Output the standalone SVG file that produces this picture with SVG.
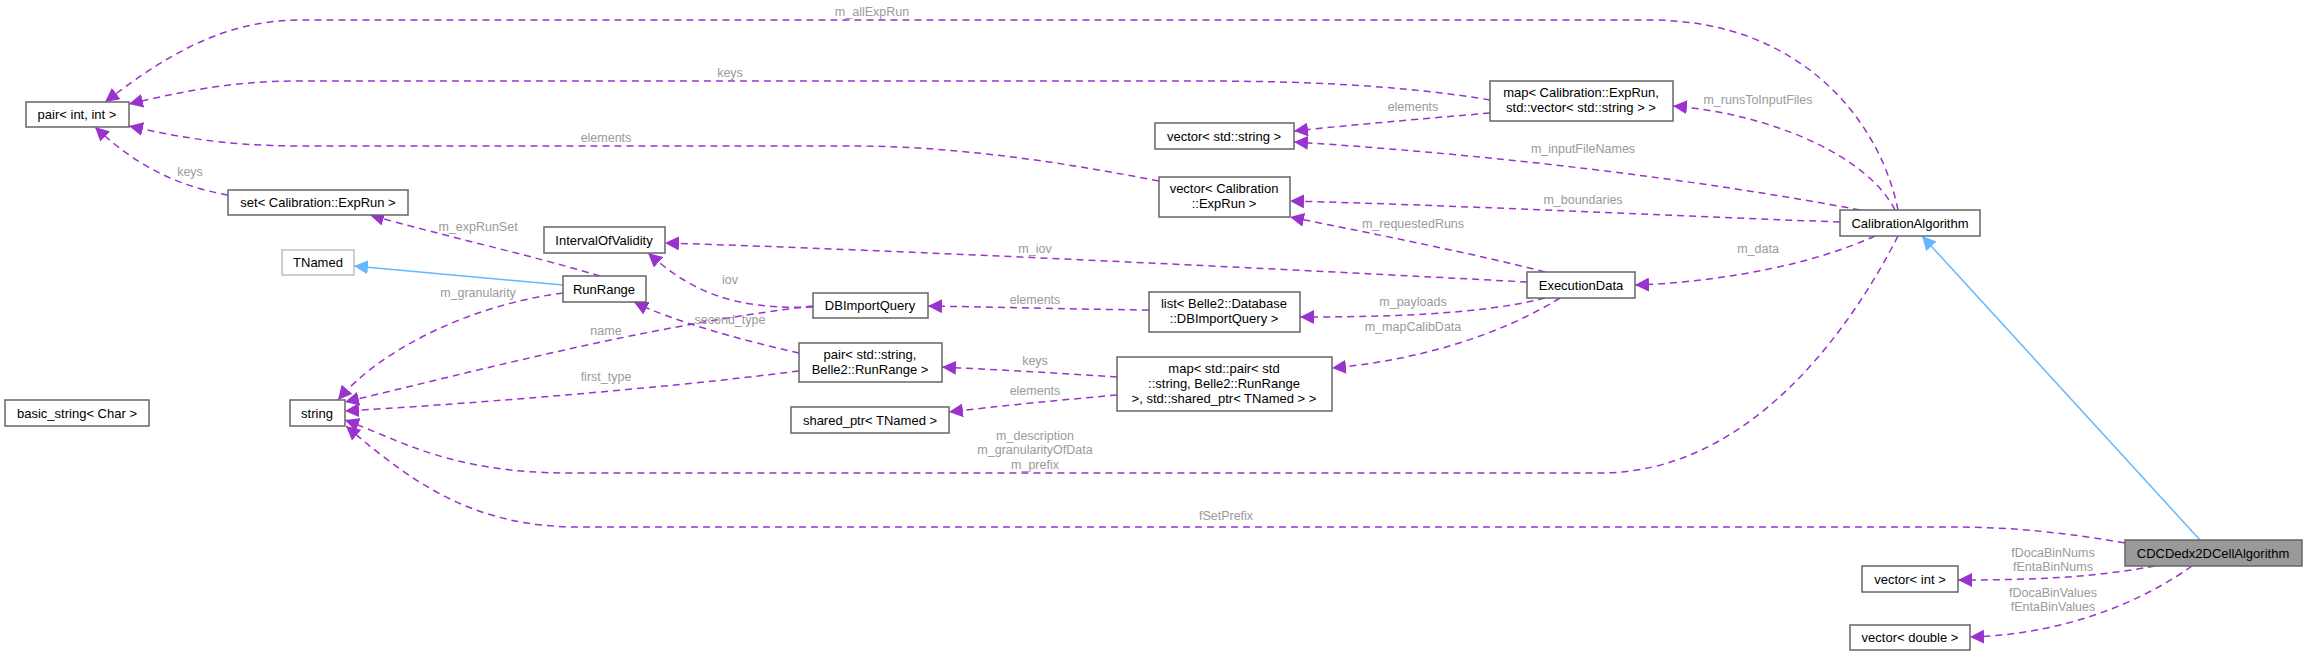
<svg xmlns="http://www.w3.org/2000/svg" width="2304" height="653" viewBox="0 0 2304 653">
<defs>
<marker id="pa" viewBox="0 0 10 10" refX="10" refY="5" markerWidth="14" markerHeight="14" markerUnits="userSpaceOnUse" orient="auto"><path d="M0,0 L10,5 L0,10 z" fill="#9a32cd"/></marker>
<marker id="ba" viewBox="0 0 10 10" refX="10" refY="5" markerWidth="14" markerHeight="14" markerUnits="userSpaceOnUse" orient="auto"><path d="M0,0 L10,5 L0,10 z" fill="#63b8ff"/></marker>
</defs>
<style>
rect{fill:#fff;stroke:#666;stroke-width:1.5}
.g rect{stroke:#bfbfbf}
.sel rect{fill:#999}
text{font-family:"Liberation Sans",Arial,sans-serif;font-size:13px;fill:#000}
.n text{text-anchor:middle}
.e path{fill:none;stroke:#9a32cd;stroke-width:1.5;stroke-dasharray:7,5;marker-end:url(#pa)}
.e path.i{stroke:#63b8ff;stroke-dasharray:none;marker-end:url(#ba)}
.l{fill:#9a9a9a;font-size:12.5px;text-anchor:middle}
</style>
<rect x="0" y="0" width="2304" height="653" style="fill:#fff;stroke:none"/>
<g class="e" id="edges">
<path d="M1898,210 C1880,120 1800,20 1650,20 L300,20 C220,20 160,60 105,102"/>
<path d="M1490,100 C1400,85 1300,81 1200,81 L300,81 C230,81 180,92 129,104"/>
<path d="M1490,113 C1420,119 1350,125 1294,131"/>
<path d="M1860,210 C1700,180 1500,155 1294,142"/>
<path d="M1895,210 C1870,160 1780,115 1673,106"/>
<path d="M1159,181 C1050,160 950,146 850,146 L300,146 C220,146 170,135 129,126"/>
<path d="M228,195 C170,185 130,160 95,127"/>
<path d="M1840,222 C1650,215 1450,205 1290,201"/>
<path d="M1545,272 C1480,255 1380,235 1290,217"/>
<path d="M1527,282 C1300,270 900,250 665,243"/>
<path d="M1875,236 C1800,270 1700,283 1635,285"/>
<path d="M600,276 C530,255 440,235 370,215"/>
<path class="i" d="M563,285 L354,266"/>
<path d="M813,307 C730,310 690,290 648,253"/>
<path d="M799,353 C740,340 670,320 634,302"/>
<path d="M813,306 C650,325 480,370 345,402"/>
<path d="M799,371 C650,390 450,405 345,411"/>
<path d="M563,293 C470,305 380,350 338,400"/>
<path d="M1149,310 C1060,309 990,307 928,306"/>
<path d="M1545,298 C1480,315 1380,317 1300,317"/>
<path d="M1560,298 C1500,335 1420,360 1332,368"/>
<path d="M1117,377 C1060,373 1000,370 942,367"/>
<path d="M1117,395 C1060,400 1000,406 949,412"/>
<path d="M1898,236 C1850,330 1750,473 1600,473 L570,473 C450,473 400,440 345,420"/>
<path d="M2125,543 C2050,530 2000,527 1950,527 L580,527 C480,527 420,490 346,426"/>
<path d="M2155,566 C2090,578 2030,580 1958,580"/>
<path d="M2192,566 C2130,610 2050,635 1970,637"/>
<path class="i" d="M2200,540 L1922,236"/>
</g>
<g id="labels">
<text class="l" x="872" y="16">m_allExpRun</text>
<text class="l" x="730" y="77">keys</text>
<text class="l" x="1413" y="111">elements</text>
<text class="l" x="606" y="142">elements</text>
<text class="l" x="190" y="176">keys</text>
<text class="l" x="1758" y="104">m_runsToInputFiles</text>
<text class="l" x="1583" y="153">m_inputFileNames</text>
<text class="l" x="1583" y="204">m_boundaries</text>
<text class="l" x="1413" y="228">m_requestedRuns</text>
<text class="l" x="478" y="231">m_expRunSet</text>
<text class="l" x="1035" y="253">m_iov</text>
<text class="l" x="1758" y="253">m_data</text>
<text class="l" x="730" y="284">iov</text>
<text class="l" x="478" y="297">m_granularity</text>
<text class="l" x="1035" y="304">elements</text>
<text class="l" x="1413" y="306">m_payloads</text>
<text class="l" x="730" y="324">second_type</text>
<text class="l" x="1413" y="331">m_mapCalibData</text>
<text class="l" x="606" y="335">name</text>
<text class="l" x="1035" y="365">keys</text>
<text class="l" x="606" y="381">first_type</text>
<text class="l" x="1035" y="395">elements</text>
<text class="l" x="1035" y="440">m_description</text>
<text class="l" x="1035" y="454">m_granularityOfData</text>
<text class="l" x="1035" y="469">m_prefix</text>
<text class="l" x="1226" y="520">fSetPrefix</text>
<text class="l" x="2053" y="557">fDocaBinNums</text>
<text class="l" x="2053" y="571">fEntaBinNums</text>
<text class="l" x="2053" y="597">fDocaBinValues</text>
<text class="l" x="2053" y="611">fEntaBinValues</text>
</g>
<g class="n" id="pairint"><rect x="26" y="102" width="103" height="25"/><text x="77" y="119">pair&lt; int, int &gt;</text></g>
<g class="n" id="setexprun"><rect x="228" y="190" width="180" height="25"/><text x="318" y="207">set&lt; Calibration::ExpRun &gt;</text></g>
<g class="n g" id="tnamed"><rect x="282" y="250" width="72" height="25"/><text x="318" y="267">TNamed</text></g>
<g class="n" id="iov"><rect x="544" y="227" width="121" height="26"/><text x="604" y="245">IntervalOfValidity</text></g>
<g class="n" id="runrange"><rect x="563" y="276" width="83" height="26"/><text x="604" y="294">RunRange</text></g>
<g class="n" id="basicstring"><rect x="5" y="400" width="144" height="26"/><text x="77" y="418">basic_string&lt; Char &gt;</text></g>
<g class="n" id="string"><rect x="290" y="400" width="55" height="26"/><text x="317" y="418">string</text></g>
<g class="n" id="dbimportquery"><rect x="813" y="293" width="115" height="25"/><text x="870" y="310">DBImportQuery</text></g>
<g class="n" id="pairstrrr"><rect x="799" y="343" width="143" height="39"/><text x="870" y="359">pair&lt; std::string,</text><text x="870" y="374">Belle2::RunRange &gt;</text></g>
<g class="n" id="sharedptr"><rect x="791" y="407" width="158" height="26"/><text x="870" y="425">shared_ptr&lt; TNamed &gt;</text></g>
<g class="n" id="mappair"><rect x="1117" y="357" width="215" height="54"/><text x="1224" y="373">map&lt; std::pair&lt; std</text><text x="1224" y="388">::string, Belle2::RunRange</text><text x="1224" y="403">&gt;, std::shared_ptr&lt; TNamed &gt; &gt;</text></g>
<g class="n" id="listdb"><rect x="1149" y="292" width="151" height="40"/><text x="1224" y="308">list&lt; Belle2::Database</text><text x="1224" y="323">::DBImportQuery &gt;</text></g>
<g class="n" id="vecexprun"><rect x="1159" y="177" width="131" height="40"/><text x="1224" y="193">vector&lt; Calibration</text><text x="1224" y="208">::ExpRun &gt;</text></g>
<g class="n" id="vecstring"><rect x="1155" y="123" width="139" height="26"/><text x="1224" y="141">vector&lt; std::string &gt;</text></g>
<g class="n" id="mapexprun"><rect x="1490" y="81" width="183" height="40"/><text x="1581" y="97">map&lt; Calibration::ExpRun,</text><text x="1581" y="112">std::vector&lt; std::string &gt; &gt;</text></g>
<g class="n" id="execdata"><rect x="1527" y="272" width="108" height="26"/><text x="1581" y="290">ExecutionData</text></g>
<g class="n" id="calibalg"><rect x="1840" y="210" width="140" height="26"/><text x="1910" y="228">CalibrationAlgorithm</text></g>
<g class="n sel" id="cdcdedx"><rect x="2125" y="540" width="177" height="26"/><text x="2213" y="558">CDCDedx2DCellAlgorithm</text></g>
<g class="n" id="vecint"><rect x="1862" y="566" width="96" height="26"/><text x="1910" y="584">vector&lt; int &gt;</text></g>
<g class="n" id="vecdouble"><rect x="1850" y="625" width="120" height="25"/><text x="1910" y="642">vector&lt; double &gt;</text></g>
</svg>
